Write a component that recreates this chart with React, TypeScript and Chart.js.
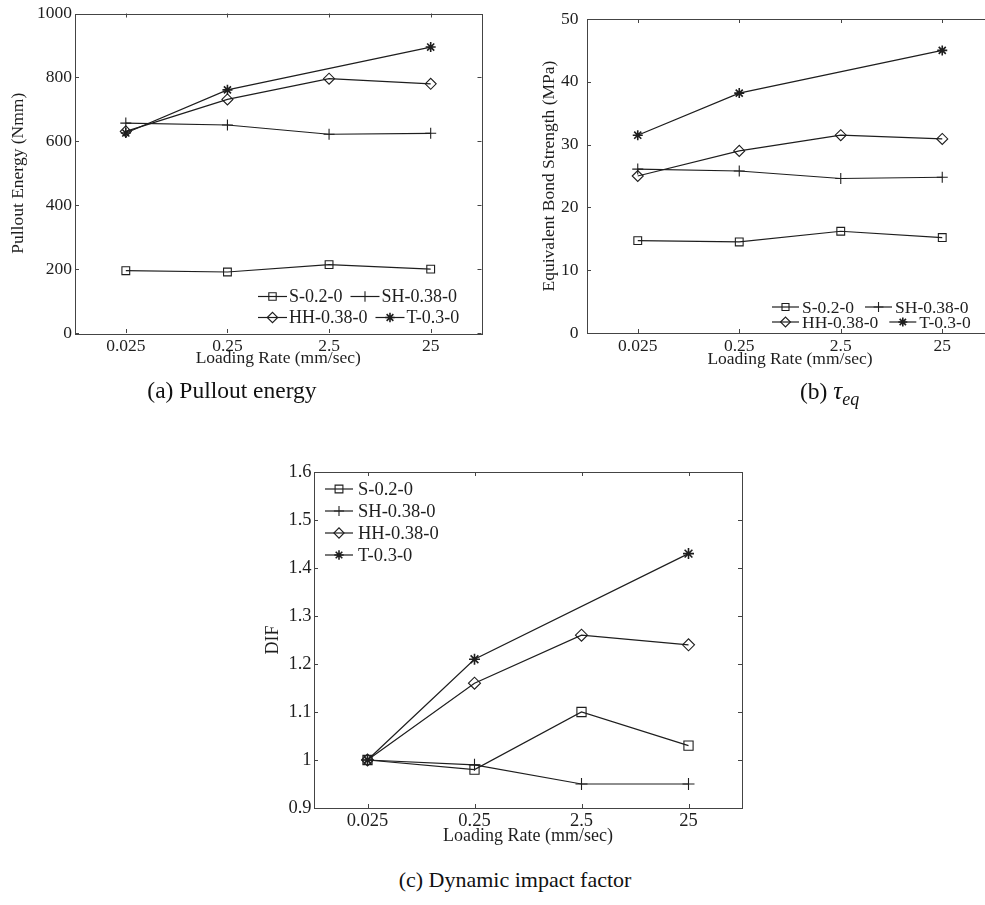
import React, { useEffect, useRef } from "react";
import { Chart, registerables } from "chart.js";
import { drawPoint } from "chart.js/helpers";

Chart.register(...registerables);

// ---------- data ----------
const categories = ["0.025", "0.25", "2.5", "25"];
const seriesNames = ["S-0.2-0", "SH-0.38-0", "HH-0.38-0", "T-0.3-0"];
const markerStyles = ["rect", "cross", "rectRot", "star"];

const energyS = [195, 191, 214, 200];
const energySH = [657, 651, 622, 625];
const energyHH = [631, 731, 796, 780];
const energyT = [626, 761, null, 895];

const bondS = [14.7, 14.5, 16.2, 15.2];
const bondSH = [26.1, 25.8, 24.6, 24.8];
const bondHH = [25.0, 29.0, 31.5, 30.9];
const bondT = [31.5, 38.2, null, 45.0];

const difS = [1.0, 0.98, 1.1, 1.03];
const difSH = [1.0, 0.99, 0.95, 0.95];
const difHH = [1.0, 1.16, 1.26, 1.24];
const difT = [1.0, 1.21, null, 1.43];

const energyTicks = { min: 0, max: 1000, step: 200 };
const bondTicks = { min: 0, max: 50, step: 10 };
const difTicks = { min: 0.9, max: 1.6, step: 0.1 };

const INK = "#1e1e1e";
const FRAME = "#444";
const SERIF = "'Liberation Serif', 'Times New Roman', serif";
const CLEAR = "rgba(255,255,255,0)";

// ---------- plugins ----------
const framePlugin = {
  id: "mframe",
  afterDatasetsDraw(chart: any) {
    const { ctx, chartArea: a, scales } = chart;
    const x = scales.x;
    const y = scales.y;
    const tl = 4;
    ctx.save();
    ctx.strokeStyle = FRAME;
    ctx.lineWidth = 1;
    ctx.strokeRect(Math.round(a.left) + 0.5, Math.round(a.top) + 0.5, Math.round(a.right - a.left), Math.round(a.bottom - a.top));
    ctx.beginPath();
    x.ticks.forEach((_: any, i: number) => {
      const px = Math.round(x.getPixelForTick(i)) + 0.5;
      ctx.moveTo(px, a.bottom);
      ctx.lineTo(px, a.bottom - tl);
      ctx.moveTo(px, a.top);
      ctx.lineTo(px, a.top + tl);
    });
    y.ticks.forEach((_: any, i: number) => {
      const py = Math.round(y.getPixelForTick(i)) + 0.5;
      ctx.moveTo(a.left, py);
      ctx.lineTo(a.left + tl, py);
      ctx.moveTo(a.right, py);
      ctx.lineTo(a.right - tl, py);
    });
    ctx.stroke();
    ctx.restore();
  },
};

const legendPlugin = {
  id: "mlegend",
  afterDraw(chart: any, _args: any, opts: any) {
    if (!opts || !opts.rows) return;
    const { ctx, chartArea: a } = chart;
    const ds = chart.data.datasets;
    ctx.save();
    ctx.font = `${opts.fontSize}px ${SERIF}`;
    ctx.textBaseline = "middle";
    ctx.textAlign = "left";
    opts.rows.forEach((row: number[], r: number) => {
      let cx = a.left + opts.x;
      const cy = a.top + opts.ys[r];
      row.forEach((di: number) => {
        const d = ds[di];
        ctx.strokeStyle = d.borderColor;
        ctx.lineWidth = d.borderWidth;
        ctx.beginPath();
        ctx.moveTo(cx, cy);
        ctx.lineTo(cx + opts.lineLen, cy);
        ctx.stroke();
        ctx.fillStyle = CLEAR;
        ctx.strokeStyle = d.pointBorderColor;
        ctx.lineWidth = d.pointBorderWidth;
        drawPoint(ctx, {
          pointStyle: d.pointStyle,
          radius: d.pointRadius * opts.markerScale,
          borderWidth: d.pointBorderWidth,
          rotation: 0,
        } as any, cx + opts.lineLen / 2, cy);
        ctx.fillStyle = INK;
        const tx = cx + opts.lineLen + opts.textGap;
        ctx.fillText(d.label, tx, cy + 1);
        cx = tx + ctx.measureText(d.label).width + opts.itemGap;
      });
    });
    ctx.restore();
  },
};

// ---------- chart builder ----------
function makeDatasets(values: (number | null)[][], radii: number[]) {
  return values.map((v, i) => ({
    label: seriesNames[i],
    data: v,
    borderColor: INK,
    borderWidth: 1.2,
    pointStyle: markerStyles[i],
    pointRadius: radii[i],
    pointHoverRadius: radii[i],
    pointBorderColor: INK,
    pointBackgroundColor: CLEAR,
    pointBorderWidth: markerStyles[i] === "star" ? 1.6 : 1.1,
    spanGaps: true,
    tension: 0,
  }));
}

type Cfg = {
  values: (number | null)[][];
  radii: number[];
  ticks: { min: number; max: number; step: number };
  yTitle: string;
  yWidth: number;
  xHeight: number;
  padTop: number;
  padRight: number;
  tickFont: number;
  titleFont: number;
  yTickPad: number;
  xTickPad: number;
  yTitlePad: number;
  xTitlePad: number;
  legend: any;
};

function LineChart({ cfg, width, height }: { cfg: Cfg; width: number; height: number }) {
  const ref = useRef<HTMLCanvasElement | null>(null);
  useEffect(() => {
    if (!ref.current) return;
    const chart = new Chart(ref.current, {
      type: "line",
      data: { labels: categories, datasets: makeDatasets(cfg.values, cfg.radii) as any },
      options: {
        animation: false,
        responsive: false,
        events: [],
        layout: { padding: { top: cfg.padTop, right: cfg.padRight, left: 0, bottom: 0 } },
        plugins: {
          legend: { display: false },
          tooltip: { enabled: false },
          mlegend: cfg.legend,
        } as any,
        scales: {
          x: {
            type: "category",
            offset: true,
            grid: { display: false, drawTicks: false },
            border: { display: false },
            ticks: {
              color: INK,
              font: { family: SERIF, size: cfg.tickFont },
              padding: cfg.xTickPad,
              maxRotation: 0,
              autoSkip: false,
            },
            title: {
              display: true,
              text: "Loading Rate (mm/sec)",
              color: INK,
              font: { family: SERIF, size: cfg.titleFont },
              padding: { top: 0, bottom: cfg.xTitlePad },
            },
            afterFit: (s: any) => {
              s.height = cfg.xHeight;
            },
          },
          y: {
            type: "linear",
            min: cfg.ticks.min,
            max: cfg.ticks.max,
            grid: { display: false, drawTicks: false },
            border: { display: false },
            ticks: {
              stepSize: cfg.ticks.step,
              color: INK,
              font: { family: SERIF, size: cfg.tickFont },
              padding: cfg.yTickPad,
              callback: (v: any) => String(Math.round(Number(v) * 100) / 100),
            },
            title: {
              display: true,
              text: cfg.yTitle,
              color: INK,
              font: { family: SERIF, size: cfg.titleFont },
              padding: { top: cfg.yTitlePad, bottom: 0 },
            },
            afterFit: (s: any) => {
              s.width = cfg.yWidth;
            },
          },
        } as any,
      },
      plugins: [framePlugin, legendPlugin],
    });
    return () => chart.destroy();
  }, [cfg]);
  return <canvas ref={ref} width={width} height={height} style={{ display: "block" }} />;
}

const cfgA: Cfg = {
  values: [energyS, energySH, energyHH, energyT],
  radii: [5.5, 5.5, 5.5, 5],
  ticks: energyTicks,
  yTitle: "Pullout Energy (Nmm)",
  yWidth: 75,
  xHeight: 47,
  padTop: 13,
  padRight: 8.5,
  tickFont: 17.5,
  titleFont: 17.5,
  yTickPad: 3,
  xTickPad: 2.5,
  yTitlePad: 7.5,
  xTitlePad: 11.5,
  legend: { rows: [[0, 1], [2, 3]], x: 183, ys: [283, 304], lineLen: 29, textGap: 2, itemGap: 8, fontSize: 18, markerScale: 0.95 },
};

const cfgB: Cfg = {
  values: [bondS, bondSH, bondHH, bondT],
  radii: [5.5, 5.5, 5.5, 5],
  ticks: bondTicks,
  yTitle: "Equivalent Bond Strength (MPa)",
  yWidth: 97,
  xHeight: 47,
  padTop: 13,
  padRight: 7,
  tickFont: 17.5,
  titleFont: 17.5,
  yTickPad: 8.5,
  xTickPad: 2.5,
  yTitlePad: 48.5,
  xTitlePad: 10.5,
  legend: { rows: [[0, 1], [2, 3]], x: 185, ys: [288, 303], lineLen: 27, textGap: 3, itemGap: 11, fontSize: 17.5, markerScale: 0.9 },
};

const cfgC: Cfg = {
  values: [difS, difSH, difHH, difT],
  radii: [6.5, 6, 6, 5.5],
  ticks: difTicks,
  yTitle: "DIF",
  yWidth: 64,
  xHeight: 47,
  padTop: 17,
  padRight: 8,
  tickFont: 18.5,
  titleFont: 18,
  yTickPad: 2.5,
  xTickPad: 2,
  yTitlePad: 12,
  xTitlePad: 8,
  legend: { rows: [[0], [1], [2], [3]], x: 11, ys: [17, 39, 61, 83], lineLen: 28, textGap: 5, itemGap: 10, fontSize: 18.5, markerScale: 0.85 },
};

const capStyle: React.CSSProperties = {
  position: "absolute",
  fontFamily: SERIF,
  color: "#111",
  whiteSpace: "nowrap",
  lineHeight: "28px",
};

export default function App() {
  return (
    <div
      style={{
        position: "absolute",
        left: 0,
        top: 0,
        width: 985,
        height: 905,
        overflow: "hidden",
        background: "#fff",
      }}
    >
      <div style={{ position: "absolute", left: 0, top: 0 }}>
        <LineChart cfg={cfgA} width={490} height={380} />
      </div>
      <div style={{ position: "absolute", left: 490, top: 0 }}>
        <LineChart cfg={cfgB} width={510} height={380} />
      </div>
      <div style={{ position: "absolute", left: 250, top: 455 }}>
        <LineChart cfg={cfgC} width={500} height={400} />
      </div>
      <div style={{ ...capStyle, fontSize: 23.5, left: 82, top: 376, width: 300, textAlign: "center" }}>(a) Pullout energy</div>
      <div style={{ ...capStyle, fontSize: 23.5, left: 800, top: 377 }}>
        (b) <i style={{ fontSize: 25 }}>τ</i>
        <sub style={{ fontSize: 18, fontStyle: "italic", verticalAlign: "-6px", lineHeight: 0 }}>eq</sub>
      </div>
      <div style={{ ...capStyle, fontSize: 22, left: 365, top: 866, width: 300, textAlign: "center" }}>(c) Dynamic impact factor</div>
    </div>
  );
}
